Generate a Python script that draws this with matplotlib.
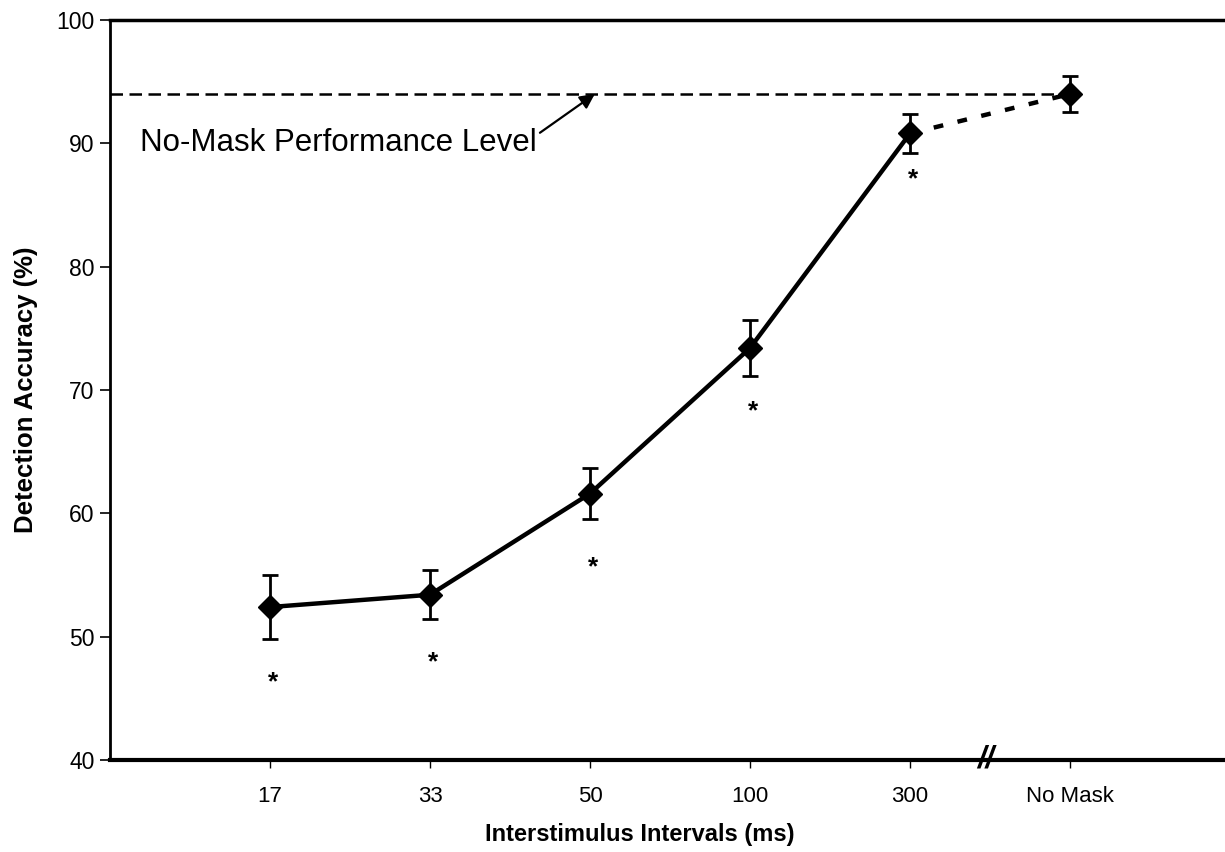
import matplotlib
matplotlib.use("Agg")
import matplotlib.pyplot as plt

plt.rcParams['font.family'] = ['Liberation Sans', 'DejaVu Sans']

# data
labels = ["17", "33", "50", "100", "300", "No Mask"]
accuracy = [52.4, 53.4, 61.6, 73.4, 90.8, 94.0]
sem = [2.6, 2.0, 2.1, 2.3, 1.55, 1.45]
star_y = [46.3, 47.9, 55.6, 68.3, 87.1]
no_mask_level = 94.0

pos = list(range(1, len(labels) + 1))

fig = plt.figure(figsize=(12.25, 8.52), dpi=100)
ax = fig.add_axes([110 / 1225, 1 - 760 / 852, 1 - 110 / 1225, 740 / 852])

# no-mask reference line
ax.plot([0, pos[-1]], [no_mask_level, no_mask_level], color="black",
        lw=1.8, dashes=(5, 2.6), zorder=1)

# masked conditions, solid line
ax.plot(pos[:5], accuracy[:5], color="black", lw=3.2, zorder=2)
# link to no-mask condition, dashed
ax.plot(pos[4:], accuracy[4:], color="black", lw=3.2, dashes=(2.2, 3.3), zorder=2)

ax.errorbar(pos, accuracy, yerr=sem, fmt="D", color="black", ms=12,
            elinewidth=2, capsize=6, capthick=2, zorder=3)

# significance stars
for p, sy in zip(pos[:5], star_y):
    ax.text(p + 0.02, sy, "*", ha="center", va="center", fontsize=19,
            fontweight="bold")

ax.annotate("No-Mask Performance Level", xy=(3.03, no_mask_level),
            xytext=(0.19, 90), fontsize=22.5, va="center", ha="left",
            arrowprops=dict(arrowstyle="-|>", color="black", lw=1.6,
                            mutation_scale=22, shrinkA=0, shrinkB=0,
                            relpos=(0.98, 0.6)))

ax.set_xlim(0, (1225 - 110) / 160)
ax.set_ylim(40, 100)
ax.set_xticks(pos)
ax.set_xticklabels(labels, fontsize=16)
ax.set_yticks(range(40, 101, 10))
ax.tick_params(axis="y", labelsize=16.5, length=7, width=1.2, direction="out", pad=4)
ax.tick_params(axis="x", length=6, width=1.0, direction="out", pad=13)

ax.spines["right"].set_visible(False)
ax.spines["left"].set_linewidth(2)
ax.spines["top"].set_linewidth(2.5)
ax.spines["bottom"].set_linewidth(3)

# axis break marks
ax.text(5.47, 40, "//", ha="center", va="center", fontsize=22,
        fontstyle="italic", fontweight="bold", clip_on=False, zorder=5)

ax.set_ylabel("Detection Accuracy (%)", fontsize=18.5, fontweight="bold")
ax.yaxis.set_label_coords(-(110 - 38) / 1115, 0.5)
ax.set_xlabel("Interstimulus Intervals (ms)", fontsize=17, fontweight="bold")
ax.xaxis.set_label_coords((640 - 110) / 1115, -(823 - 760) / 740)

fig.savefig("out.png", dpi=100)
